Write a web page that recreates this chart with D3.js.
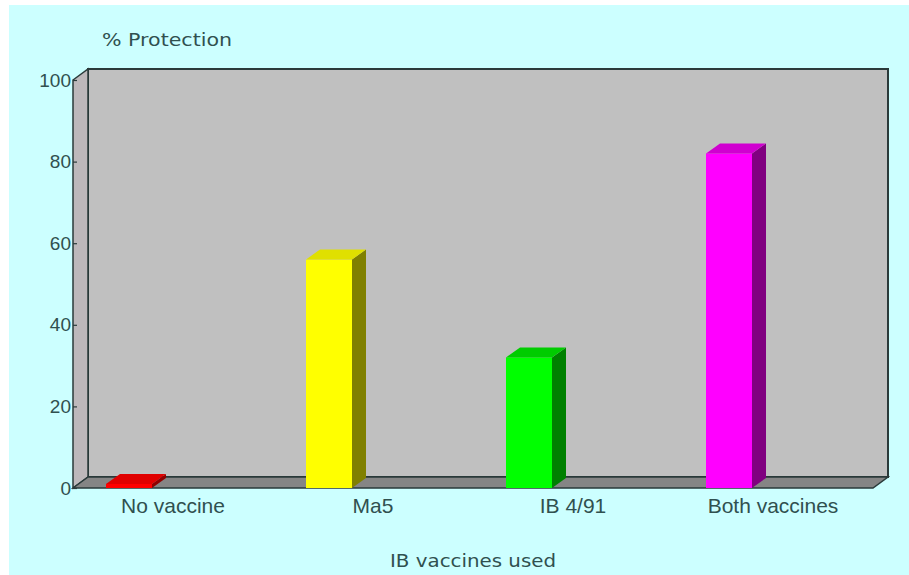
<!DOCTYPE html>
<html>
<head>
<meta charset="utf-8">
<script src="https://cdn.jsdelivr.net/npm/d3@7"></script>
<style>
  html, body { margin: 0; padding: 0; background: #ffffff; }
  svg { display: block; }
</style>
</head>
<body>
<svg id="chart" width="909" height="575"></svg>
<script>
// Vaccine protection data
const categories = ["No vaccine", "Ma5", "IB 4/91", "Both vaccines"];
const protection = [1, 56, 32, 82];
const yTicks = [0, 20, 40, 60, 80, 100];
const barColors = [
  { front: "#ff0000", side: "#900000", top: "#e00000" },
  { front: "#ffff00", side: "#808000", top: "#e0e000" },
  { front: "#00ff00", side: "#008000", top: "#00cc00" },
  { front: "#ff00ff", side: "#800080", top: "#d000d0" }
];
const yTitle = "% Protection";
const xTitle = "IB vaccines used";

(function () {
  const svg = d3.select("#chart");
  const W = 909, H = 575;

  // page background
  svg.append("rect").attr("x", 9).attr("y", 5).attr("width", W - 9).attr("height", H - 5)
    .attr("fill", "#ccffff");

  // plot geometry (front plane) and depth offset of the box
  const plotL = 73, plotR = 873, plotB = 488, plotT = 80;
  const depthX = 15, depthY = -11;

  const x = d3.scaleBand().domain(categories).range([plotL, plotR]);
  const y = d3.scaleLinear().domain([0, 100]).range([plotB, plotT]);

  const edge = "#2a3a3a";
  const g = svg.append("g");
  const poly = pts => pts.map(p => p.join(",")).join(" ");

  // back wall
  g.append("rect")
    .attr("x", plotL + depthX).attr("y", plotT + depthY)
    .attr("width", plotR - plotL).attr("height", plotB - plotT)
    .attr("fill", "#c0c0c0").attr("stroke", edge).attr("stroke-width", 2);

  // left side wall
  g.append("polygon")
    .attr("points", poly([[plotL, plotT], [plotL + depthX, plotT + depthY], [plotL + depthX, plotB + depthY], [plotL, plotB]]))
    .attr("fill", "#bdb8bb").attr("stroke", edge).attr("stroke-width", 1.5);

  // floor
  g.append("polygon")
    .attr("points", poly([[plotL, plotB], [plotL + depthX, plotB + depthY], [plotR + depthX, plotB + depthY], [plotR, plotB]]))
    .attr("fill", "#858585").attr("stroke", edge).attr("stroke-width", 1.5);

  // y axis ticks and labels
  const yAxis = d3.axisLeft(y).tickValues(yTicks).tickSize(-4).tickPadding(2);
  const ya = svg.append("g").attr("transform", `translate(${plotL},0)`).call(yAxis);
  ya.select(".domain").remove();
  ya.selectAll(".tick line").attr("stroke", edge).attr("stroke-width", 1.2);
  ya.selectAll(".tick text")
    .attr("font-family", "Liberation Sans, Arial, sans-serif")
    .attr("font-size", 19).attr("fill", "#30504f");

  // 3D bars
  const barOffset = 0.165, barWidth = 0.23;
  const bdx = 14, bdy = -10;
  const bars = svg.append("g");
  categories.forEach((c, i) => {
    const v = protection[i];
    const x0 = x(c) + x.bandwidth() * barOffset;
    const w = x.bandwidth() * barWidth;
    const yTop = y(v), yBase = y(0);
    const col = barColors[i];
    const grp = bars.append("g");
    grp.append("rect").attr("x", x0).attr("y", yTop).attr("width", w).attr("height", yBase - yTop)
      .attr("fill", col.front);
    grp.append("polygon")
      .attr("points", poly([[x0 + w, yTop], [x0 + w + bdx, yTop + bdy], [x0 + w + bdx, yBase + bdy], [x0 + w, yBase]]))
      .attr("fill", col.side);
    grp.append("polygon")
      .attr("points", poly([[x0, yTop], [x0 + bdx, yTop + bdy], [x0 + w + bdx, yTop + bdy], [x0 + w, yTop]]))
      .attr("fill", col.top);
  });

  // category labels
  const xAxis = d3.axisBottom(x).tickSize(0).tickPadding(10);
  const xa = svg.append("g").attr("transform", `translate(0,${plotB})`).call(xAxis);
  xa.select(".domain").remove();
  xa.selectAll(".tick text")
    .attr("font-family", "Liberation Sans, Arial, sans-serif")
    .attr("font-size", 21).attr("fill", "#30504f");

  // axis titles
  svg.append("text").attr("x", 102).attr("y", 46)
    .attr("font-family", "DejaVu Sans, sans-serif").attr("font-size", 18)
    .attr("textLength", 130).attr("lengthAdjust", "spacingAndGlyphs")
    .attr("fill", "#30504f").text(yTitle);

  svg.append("text").attr("x", 390).attr("y", 567)
    .attr("font-family", "DejaVu Sans, sans-serif").attr("font-size", 18)
    .attr("textLength", 166).attr("lengthAdjust", "spacingAndGlyphs")
    .attr("fill", "#30504f").text(xTitle);
})();
</script>
</body>
</html>
